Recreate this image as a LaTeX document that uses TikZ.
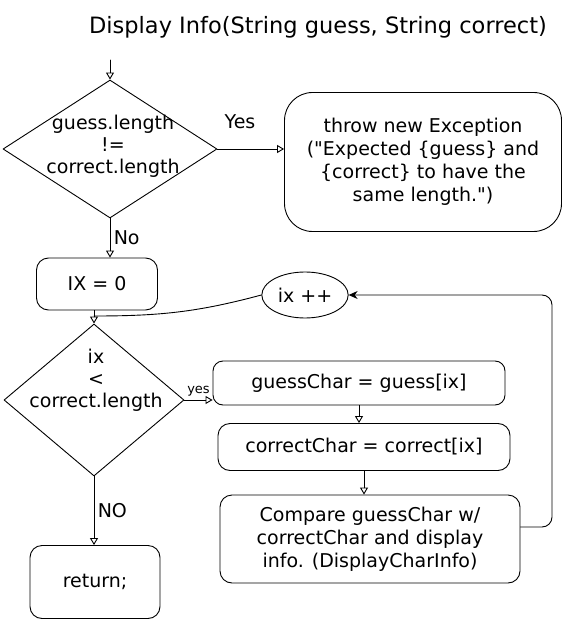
\documentclass[tikz,border=0pt]{standalone}
\usepackage{fontspec}
\setmainfont{DejaVu Sans}
\usetikzlibrary{arrows.meta,shapes.geometric,positioning}

\begin{document}
\begin{tikzpicture}[x=1pt,y=-1pt,line width=0.9pt,line cap=round,line join=round,
		>={Triangle[open,length=7pt,width=8pt]},font=\fontsize{19}{23}\selectfont]
	\tikzset{proc/.style={draw,rounded corners=12pt,align=center,inner sep=2pt},
		decision/.style={draw,shape=diamond,inner sep=0pt},
		cond/.style={align=center,font=\fontsize{19}{22}\selectfont}}
	\useasboundingbox (0,0) rectangle (572,628);
	\node[font=\fontsize{22.5}{26}\selectfont] (title) at (318,27) {Display Info(String guess, String correct)};
	% first test
	\node[decision,minimum width=214pt,minimum height=138pt] (lenchk) at (110,149) {};
	\node[cond] (lentxt) at (113,146) {guess.length\\!=\\correct.length};
	\node[proc,rounded corners=28pt,minimum width=277pt,minimum height=139pt] (excp) at (423,162)
		{throw new Exception\\(\textquotedbl Expected \{guess\} and\\\{correct\} to have the\\same length.\textquotedbl)};
	\node[proc,minimum width=121pt,minimum height=52pt] (ixinit) at (97,284) {IX = 0};
	\node[draw,ellipse,minimum width=86pt,minimum height=46pt] (incr) at (305,295) {ix ++};
	% loop test
	\node[decision,minimum width=180pt,minimum height=152pt] (bndchk) at (94,400) {};
	\node[cond] (bndtxt) at (96,380) {ix\\<\\correct.length};
	\node[proc,rounded corners=10pt,minimum width=292pt,minimum height=44pt] (gchar) at (359,383) {guessChar = guess[ix]};
	\node[proc,minimum width=292pt,minimum height=47pt] (cchar) at (364,447) {correctChar = correct[ix]};
	\node[proc,minimum width=300pt,minimum height=88pt] (cmp) at (370,539)
		{Compare guessChar w/\\correctChar and display\\info. (DisplayCharInfo)};
	\node[proc,minimum width=130pt,minimum height=73pt] (ret) at (95,582) {return;};
	\coordinate (start) at (110,60);
	\coordinate (merge) at (94,316);
	\coordinate (loopR) at (552,295);
	\draw[->] (start) -- (lenchk.north);
	\draw[->] (lenchk.east) -- (lenchk.east -| excp.west);
	\node (yes1) at (240,122) {Yes};
	\draw[->] (lenchk.south) -- (lenchk.south |- ixinit.north) node[midway,right] (no1) {No};
	\draw[->] (bndchk.north |- ixinit.south) -- (bndchk.north);
	\draw (incr.west) to[out=195,in=0] (merge);
	\draw[->] (bndchk.east) -- (bndchk.east -| gchar.west) node[midway,above,font=\fontsize{13}{15}\selectfont] (yes2) {yes};
	\draw[->] (gchar.south) -- (gchar.south |- cchar.north);
	\draw[->] (cchar.south) -- (cchar.south |- cmp.north);
	\draw[-{Stealth[length=9pt,width=8pt]},rounded corners=10pt] ([yshift=12pt]cmp.east) -| (loopR) -- (incr.east);
	\draw[->] (bndchk.south) -- (bndchk.south |- ret.north) node[midway,right] (no2) {NO};
\end{tikzpicture}
\end{document}
